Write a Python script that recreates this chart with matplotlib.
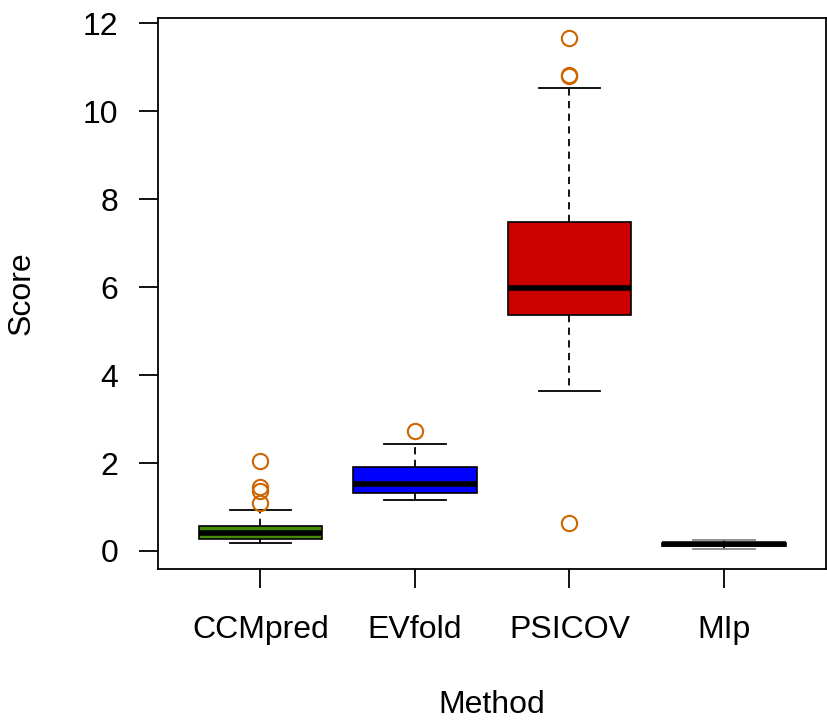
import matplotlib
matplotlib.use("Agg")
import matplotlib.pyplot as plt

methods = ["CCMpred", "EVfold", "PSICOV", "MIp"]
whislo = [0.18, 1.16, 3.64, 0.05]
q1 = [0.27, 1.32, 5.36, 0.12]
med = [0.41, 1.52, 5.98, 0.15]
q3 = [0.57, 1.91, 7.48, 0.18]
whishi = [0.93, 2.43, 10.52, 0.25]
fliers = [[2.05, 1.45, 1.36, 1.10], [2.73], [11.66, 10.83, 10.79, 0.64], []]
box_colors = ["#458B00", "#0000FF", "#CD0000", "#000000"]
ytick_vals = [0, 2, 4, 6, 8, 10, 12]

plt.rcParams["font.family"] = ["Liberation Sans", "DejaVu Sans"]

fig = plt.figure(figsize=(8.28, 7.24), dpi=100)
ax = fig.add_axes([157.5 / 828, 155 / 724, (826 - 157.5) / 828, (569 - 18) / 724])

stats = []
for i, m in enumerate(methods):
    stats.append(dict(label=m, whislo=whislo[i], q1=q1[i], med=med[i],
                      q3=q3[i], whishi=whishi[i], fliers=fliers[i]))

bp = ax.bxp(stats, positions=range(1, len(methods) + 1), widths=0.8,
            patch_artist=True, showfliers=True,
            boxprops=dict(edgecolor="black", linewidth=1.2),
            medianprops=dict(color="black", linewidth=4, solid_capstyle="butt"),
            whiskerprops=dict(color="black", linewidth=1.3, linestyle=(0, (4, 3))),
            capprops=dict(color="black", linewidth=1.3),
            capwidths=0.4,
            flierprops=dict(marker="o", markerfacecolor="none",
                            markeredgecolor="#CD6600", markersize=11,
                            markeredgewidth=1.5, linestyle="none"))
for patch, c in zip(bp["boxes"], box_colors):
    patch.set_facecolor(c)
# MIp whisker caps appear grey in the reference
bp["caps"][6].set_color("#888888")
bp["caps"][7].set_color("#888888")

ax.set_xlim(0.334, 4.66)
ax.set_ylim(-0.41, 12.12)
ax.set_yticks(ytick_vals)
ax.set_yticklabels([str(v) for v in ytick_vals])
ax.set_xticks(range(1, len(methods) + 1))
ax.set_xticklabels(methods)
ax.tick_params(axis="both", labelsize=23, length=14, width=1.3, direction="out")
ax.tick_params(axis="y", pad=14)
ax.tick_params(axis="x", pad=19)
for s in ax.spines.values():
    s.set_linewidth(1.3)

fig.text(22 / 828, 1 - 293 / 724, "Score", rotation=90, fontsize=23,
         ha="center", va="center")
fig.text(492 / 828, 1 - 705 / 724, "Method", fontsize=23,
         ha="center", va="center")

fig.savefig("out.png", dpi=100)
